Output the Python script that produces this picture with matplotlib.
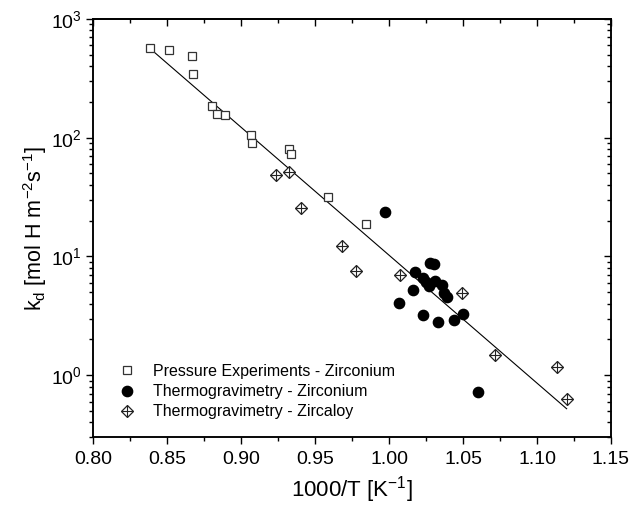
import numpy as np
import matplotlib
matplotlib.use("Agg")
import matplotlib.pyplot as plt
from matplotlib.lines import Line2D
from matplotlib.ticker import MultipleLocator, LogLocator, NullFormatter

plt.rcParams['font.family'] = ['Liberation Sans', 'DejaVu Sans']
plt.rcParams['mathtext.fontset'] = 'custom'
plt.rcParams['mathtext.rm'] = 'Liberation Sans'
plt.rcParams['mathtext.it'] = 'Liberation Sans:italic'
plt.rcParams['mathtext.default'] = 'regular'

# Pressure Experiments - Zirconium
press_x = [0.8383, 0.8510, 0.8665, 0.8672, 0.8805, 0.8834, 0.8890, 0.9066, 0.9073, 0.9321, 0.9337, 0.9589, 0.9842]
press_y = [565, 547, 487, 345, 186, 159, 155, 105, 89.5, 80, 72.8, 31.4, 18.8]

# Thermogravimetry - Zirconium
tg_zr_x = [0.9972, 1.0175, 1.0276, 1.0305, 1.0159, 1.0069, 1.0227, 1.0249, 1.0272, 1.0310,
           1.0355, 1.0373, 1.0389, 1.0227, 1.0328, 1.0440, 1.0497, 1.0603]
tg_zr_y = [23.8, 7.42, 8.83, 8.57, 5.20, 4.02, 6.53, 6.11, 5.62, 6.19,
           5.73, 4.88, 4.52, 3.20, 2.78, 2.90, 3.26, 0.72]

# Thermogravimetry - Zircaloy
tg_zy_x = [0.9233, 0.9321, 0.9406, 0.9681, 0.9774, 1.0073, 1.0494, 1.0716, 1.1137, 1.1200]
tg_zy_y = [48.4, 51.6, 25.4, 12.2, 7.56, 6.96, 4.94, 1.49, 1.17, 0.636]

# Arrhenius fit: log10(k) = fit_intercept + fit_slope * x
fit_intercept = 11.78
fit_slope = -10.77
fit_x = [0.838, 1.12]

labels = ["Pressure Experiments - Zirconium",
          "Thermogravimetry - Zirconium",
          "Thermogravimetry - Zircaloy"]

fig = plt.figure(figsize=(6.34, 5.09), dpi=100)
ax = fig.add_axes([0.1472, 0.1409, 0.8165, 0.8218])

fx = np.array(fit_x)
ax.plot(fx, 10 ** (fit_intercept + fit_slope * fx), color='black', lw=0.8, zorder=2)

ax.plot(press_x, press_y, ls='none', marker='s', ms=6.3, mfc='white', mec='#333333', mew=0.9, zorder=3)
ax.plot(tg_zr_x, tg_zr_y, ls='none', marker='o', ms=7.4, mfc='black', mec='black', zorder=3)
ax.plot(tg_zy_x, tg_zy_y, ls='none', marker='D', ms=6.1, mfc='white', mec='#222222', mew=0.9, zorder=3)
ax.plot(tg_zy_x, tg_zy_y, ls='none', marker='+', ms=8.6, mec='#222222', mew=0.8, zorder=4)

ax.set_yscale('log')
ax.set_xlim(0.80, 1.15)
ax.set_ylim(0.3, 1000)

ax.xaxis.set_major_locator(MultipleLocator(0.05))
ax.xaxis.set_minor_locator(MultipleLocator(0.025))
ax.xaxis.set_major_formatter(matplotlib.ticker.FormatStrFormatter('%.2f'))
ax.yaxis.set_major_locator(LogLocator(base=10, numticks=10))
ax.yaxis.set_minor_locator(LogLocator(base=10, subs=np.arange(2, 10), numticks=20))
ax.yaxis.set_minor_formatter(NullFormatter())

ax.tick_params(which='both', direction='out', width=1.0, labelsize=14, pad=5)
ax.tick_params(axis='y', which='both', pad=3.5)
ax.tick_params(which='major', length=5)
ax.tick_params(which='minor', length=3)

for sp in ax.spines.values():
    sp.set_linewidth(1.1)

# mirrored ticks on top and right pointing inward
axt = ax.secondary_xaxis('top')
axt.xaxis.set_major_locator(MultipleLocator(0.05))
axt.xaxis.set_minor_locator(MultipleLocator(0.025))
axt.tick_params(which='both', direction='in', width=1.0, labeltop=False)
axt.tick_params(which='major', length=5)
axt.tick_params(which='minor', length=3)
axt.spines['top'].set_linewidth(1.1)

axr = ax.twinx()
axr.set_yscale('log')
axr.set_ylim(ax.get_ylim())
axr.yaxis.set_major_locator(LogLocator(base=10, numticks=10))
axr.yaxis.set_minor_locator(LogLocator(base=10, subs=np.arange(2, 10), numticks=20))
axr.yaxis.set_major_formatter(NullFormatter())
axr.yaxis.set_minor_formatter(NullFormatter())
axr.tick_params(which='both', direction='in', width=1.0)
axr.tick_params(which='major', length=5)
axr.tick_params(which='minor', length=3)
for sp in axr.spines.values():
    sp.set_linewidth(1.1)

ax.set_xlabel(r'1000/T [K$^{-1}$]', fontsize=16, labelpad=4)
ax.set_ylabel(r'k$_d$ [mol H m$^{-2}$s$^{-1}$]', fontsize=15.5, labelpad=1)

h1 = Line2D([], [], ls='none', marker='s', ms=6.3, mfc='white', mec='#333333', mew=0.9)
h2 = Line2D([], [], ls='none', marker='o', ms=7.4, mfc='black', mec='black')
h3a = Line2D([], [], ls='none', marker='D', ms=6.1, mfc='white', mec='#222222', mew=0.9)
h3b = Line2D([], [], ls='none', marker='+', ms=8.6, mec='#222222', mew=0.8)
ax.legend([h1, h2, (h3a, h3b)], labels, loc='lower left', bbox_to_anchor=(0.016, 0.005),
          frameon=False, fontsize=11.5, handlelength=1.2, handletextpad=1.0,
          labelspacing=0.32, borderaxespad=0.6)

fig.savefig('out.png', dpi=100)
